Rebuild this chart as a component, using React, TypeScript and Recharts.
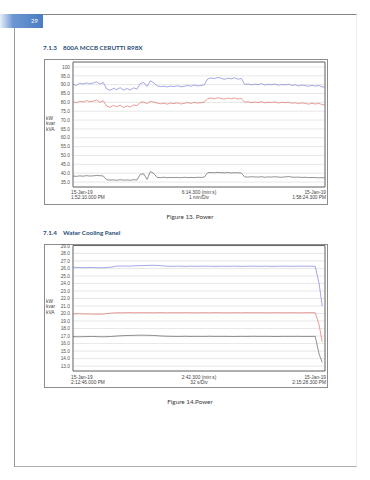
import React from 'react';
import { LineChart, Line, XAxis, YAxis, CartesianGrid, ReferenceArea } from 'recharts';

// Figure 13 - 800A MCCB CERUTTI R98X (seconds from 1:52:10 PM)
const r98xSeconds = [
  0, 5, 10, 15, 20, 25, 30, 35, 40, 45, 50, 55, 60, 65, 70, 75, 80, 85, 90, 95,
  100, 105, 110, 115, 120, 125, 130, 135, 140, 145, 150, 155, 160, 165, 170, 175, 180, 185, 190, 195,
  200, 205, 210, 215, 220, 225, 230, 235, 240, 245, 250, 255, 260, 265, 270, 275, 280, 285, 290, 295,
  300, 305, 310, 315, 320, 325, 330, 335, 340, 345, 350, 355, 360, 365, 370, 374,
];
const r98xKva = [
  90.2, 89.6, 90.8, 90.4, 91.0, 90.5, 90.9, 91.6, 90.3, 91.2,
  87.6, 86.8, 87.9, 87.2, 88.3, 86.9, 87.8, 87.0, 88.2, 87.5,
  90.6, 91.2, 89.0, 92.2, 91.0,
  89.3, 88.9, 89.1, 88.7, 89.2, 88.9, 89.4, 88.8, 89.0, 89.6, 89.1, 89.8, 89.3, 89.5, 90.0,
  93.2, 93.8, 93.4, 94.1, 93.6, 93.0, 93.7, 93.3, 93.9, 93.1, 93.5,
  90.1, 90.4, 89.9, 90.3, 90.0, 90.6, 89.8, 90.2, 90.0, 90.4, 89.7, 90.1, 89.9, 90.3, 89.6,
  89.9, 89.3, 89.8, 89.5, 89.1, 89.6, 89.2, 89.5, 88.8, 88.6,
];
const r98xKw = [
  80.3, 79.8, 80.6, 80.2, 81.0, 80.4, 80.7, 81.3, 80.1, 80.9,
  77.9, 77.2, 78.3, 77.5, 78.4, 77.1, 78.0, 77.4, 78.5, 78.2,
  79.9, 80.2, 79.3, 80.6, 80.1,
  79.6, 79.2, 79.5, 79.0, 79.6, 79.3, 79.7, 79.1, 79.4, 79.9, 79.4, 80.0, 79.6, 79.8, 80.2,
  82.1, 82.5, 82.0, 82.6, 82.2, 81.8, 82.4, 82.0, 82.5, 81.9, 82.2,
  80.1, 80.3, 79.8, 80.2, 79.9, 80.4, 79.7, 80.1, 79.9, 80.3, 79.6, 80.0, 79.8, 80.1, 79.5,
  79.8, 79.2, 79.7, 79.4, 79.0, 79.5, 79.1, 79.4, 78.8, 78.5,
];
const r98xKvar = [
  38.4, 38.2, 38.5, 38.3, 38.6, 38.4, 38.5, 38.7, 38.6, 38.4,
  36.3, 36.1, 36.2, 36.0, 36.3, 36.1, 36.2, 36.0, 36.3, 36.2,
  39.4, 39.6, 36.5, 41.0, 39.8,
  37.6, 37.5, 37.7, 37.4, 37.6, 37.5, 37.6, 37.4, 37.7, 37.5, 37.6, 37.5, 37.7, 37.6, 37.8,
  40.3, 40.4, 40.2, 40.5, 40.3, 40.2, 40.4, 40.1, 40.3, 40.2, 40.1,
  37.9, 37.8, 38.0, 37.9, 37.8, 38.0, 37.7, 37.9, 37.8, 38.0, 37.8, 37.7, 37.9, 38.1, 37.8,
  37.7, 37.8, 37.6, 37.7, 37.5, 37.6, 37.5, 37.4, 37.5, 37.3,
];
const r98xTicks = [35, 40, 45, 50, 55, 60, 65, 70, 75, 80, 85, 90, 95, 100];
const r98xMinuteMarks = [58, 119, 180, 240, 301, 362];

// Figure 14 - Water Cooling Panel (seconds from 2:12:46 PM)
const coolingSeconds = [
  0, 4, 8, 12, 16, 20, 24, 28, 32, 36, 40, 44, 48, 52, 56, 60, 64, 68, 72, 76,
  80, 84, 88, 92, 96, 100, 104, 108, 112, 116, 120, 124, 128, 132, 136, 140, 144, 148, 152, 156,
  158.5, 160.5,
];
const coolingKva = [
  26.15, 26.12, 26.1, 26.14, 26.08, 26.1, 26.15, 26.3, 26.32, 26.3,
  26.35, 26.38, 26.4, 26.42, 26.38, 26.3, 26.28, 26.3, 26.27, 26.3,
  26.28, 26.3, 26.29, 26.27, 26.3, 26.28, 26.3, 26.27, 26.29, 26.3,
  26.28, 26.3, 26.27, 26.29, 26.3, 26.28, 26.3, 26.29, 26.3, 26.28,
  24.0, 21.0,
];
const coolingKw = [
  19.95, 19.96, 19.94, 19.92, 19.9, 19.93, 20.05, 20.1, 20.1, 20.12,
  20.1, 20.12, 20.11, 20.1, 20.12, 20.1, 20.11, 20.1, 20.12, 20.1,
  20.1, 20.11, 20.1, 20.12, 20.1, 20.1, 20.11, 20.1, 20.12, 20.1,
  20.11, 20.1, 20.1, 20.12, 20.1, 20.11, 20.1, 20.1, 20.12, 20.1,
  18.5, 16.2,
];
const coolingKvar = [
  16.92, 16.9, 16.93, 16.95, 16.92, 16.9, 16.94, 17.0, 17.05, 17.08,
  17.1, 17.12, 17.1, 17.08, 17.02, 16.98, 16.96, 16.95, 16.97, 16.95,
  16.96, 16.95, 16.97, 16.95, 16.96, 16.95, 16.94, 16.96, 16.95, 16.97,
  16.95, 16.96, 16.95, 16.94, 16.96, 16.95, 16.96, 16.95, 16.95, 16.96,
  14.6, 13.5,
];
const coolingTicks = [13, 14, 15, 16, 17, 18, 19, 20, 21, 22, 23, 24, 25, 26, 27, 28, 29];
const coolingDivMarks = [64.4, 96.4];

const r98xData = r98xSeconds.map((t, i) => ({ t, kva: r98xKva[i], kw: r98xKw[i], kvar: r98xKvar[i] }));
const coolingData = coolingSeconds.map((t, i) => ({ t, kva: coolingKva[i], kw: coolingKw[i], kvar: coolingKvar[i] }));

const axisFont = 'Liberation Sans, Arial, sans-serif';
const small: React.CSSProperties = { position: 'absolute', fontFamily: axisFont, fontSize: 4.8, color: '#444', lineHeight: '5.3px', whiteSpace: 'nowrap' };

interface ChartProps {
  top: number;
  height: number;
  padTop: number;
  axisH: number;
  data: any[];
  xDomain: [number, number];
  xMarks: number[];
  yDomain: [number, number];
  yTicks: number[];
  fmt: (v: number) => string;
  unitTop: number;
  labelTop: number;
  left1: string;
  left2: string;
  mid1: string;
  mid2: string;
  right1: string;
  right2: string;
}

function PowerChart(p: ChartProps) {
  return (
    <>
      <div style={{ position: 'absolute', left: 44, top: p.top, width: 284, height: p.height, border: '1px solid #8c8c8c', boxSizing: 'border-box' }} />
      <div style={{ position: 'absolute', left: 44, top: p.top }}>
        <LineChart width={283} height={p.height} data={p.data} margin={{ top: p.padTop, right: 2, bottom: 0, left: 0 }}>
          <CartesianGrid stroke="#dcdcdc" strokeWidth={0.7} />
          <XAxis dataKey="t" type="number" domain={p.xDomain} ticks={p.xMarks} tick={false} axisLine={false} tickLine={false} height={p.axisH} allowDataOverflow />
          <YAxis type="number" domain={p.yDomain} ticks={p.yTicks} width={29} tickFormatter={p.fmt} axisLine={false} tickLine={false} tickSize={3} tickMargin={0} interval={0} allowDataOverflow tick={{ fontSize: 4.8, fill: '#555', fontFamily: axisFont }} />
          <ReferenceArea x1={p.xDomain[0]} x2={p.xDomain[1]} y1={p.yDomain[0]} y2={p.yDomain[1]} fill="none" fillOpacity={0} stroke="#6a6a6a" strokeWidth={1} />
          <Line dataKey="kva" stroke="#6b6bd6" strokeWidth={0.6} dot={false} type="linear" isAnimationActive={false} />
          <Line dataKey="kw" stroke="#dc5a56" strokeWidth={0.6} dot={false} type="linear" isAnimationActive={false} />
          <Line dataKey="kvar" stroke="#4a4a4a" strokeWidth={0.6} dot={false} type="linear" isAnimationActive={false} />
        </LineChart>
      </div>
      <div style={{ ...small, left: 46, top: p.unitTop }}>kW<br />kvar<br />kVA</div>
      <div style={{ ...small, left: 71, top: p.labelTop }}>{p.left1}<br />{p.left2}</div>
      <div style={{ ...small, left: 149, width: 100, textAlign: 'center', top: p.labelTop }}>{p.mid1}<br />{p.mid2}</div>
      <div style={{ ...small, left: 226, width: 100, textAlign: 'right', top: p.labelTop }}>{p.right1}<br />{p.right2}</div>
    </>
  );
}

const heading: React.CSSProperties = { position: 'absolute', left: 43, fontFamily: 'Lato, sans-serif', fontWeight: 700, fontSize: 6.3, color: '#1f4e79', whiteSpace: 'pre' };
const caption: React.CSSProperties = { position: 'absolute', left: 100, width: 180, textAlign: 'center', fontFamily: 'Lato, sans-serif', fontSize: 6.3, color: '#3a3a3a' };

export default function App() {
  return (
    <div style={{ position: 'absolute', left: 0, top: 0, width: 370, height: 480, background: '#fff', overflow: 'hidden' }}>
      <div style={{ position: 'absolute', left: 14, top: 14, width: 341, height: 451, borderTop: '1px solid #858585', borderLeft: '1px solid #999', borderBottom: '1px solid #adadad', borderRight: '1px solid #eeeeee' }} />
      <div style={{ position: 'absolute', left: 0, top: 14, width: 43, height: 14, background: 'linear-gradient(to right, #e8eef7 0%, #6d97d3 30%, #4a7cc2 100%)' }} />
      <div style={{ position: 'absolute', left: 31, top: 17, fontFamily: 'Lato, sans-serif', fontSize: 6, color: '#fff' }}>29</div>

      <div style={{ ...heading, top: 44 }}>{'7.1.3    800A MCCB CERUTTI R98X'}</div>
      <PowerChart
        top={59} height={146} padTop={3} axisH={18} data={r98xData} xDomain={[0, 374.3]} xMarks={r98xMinuteMarks}
        yDomain={[32.2, 102.8]} yTicks={r98xTicks} fmt={(v) => (v === 100 ? '100' : v.toFixed(1))}
        unitTop={116} labelTop={189.5}
        left1="15-Jan-19" left2="1:52:10.000 PM" mid1="6:14.300 (min:s)" mid2="1 min/Div"
        right1="15-Jan-19" right2="1:58:24.300 PM"
      />
      <div style={{ ...caption, top: 213 }}>Figure 13. Power</div>

      <div style={{ ...heading, top: 229 }}>{'7.1.4    Water Cooling Panel'}</div>
      <PowerChart
        top={244} height={144} padTop={1.5} axisH={17} data={coolingData} xDomain={[0, 162.3]} xMarks={coolingDivMarks}
        yDomain={[12.35, 29.05]} yTicks={coolingTicks} fmt={(v) => v.toFixed(1)}
        unitTop={299} labelTop={374.5}
        left1="15-Jan-19" left2="2:12:46.000 PM" mid1="2:42.300 (min:s)" mid2="32 s/Div"
        right1="15-Jan-19" right2="2:15:28.300 PM"
      />
      <div style={{ ...caption, top: 398 }}>Figure 14.Power</div>
    </div>
  );
}
